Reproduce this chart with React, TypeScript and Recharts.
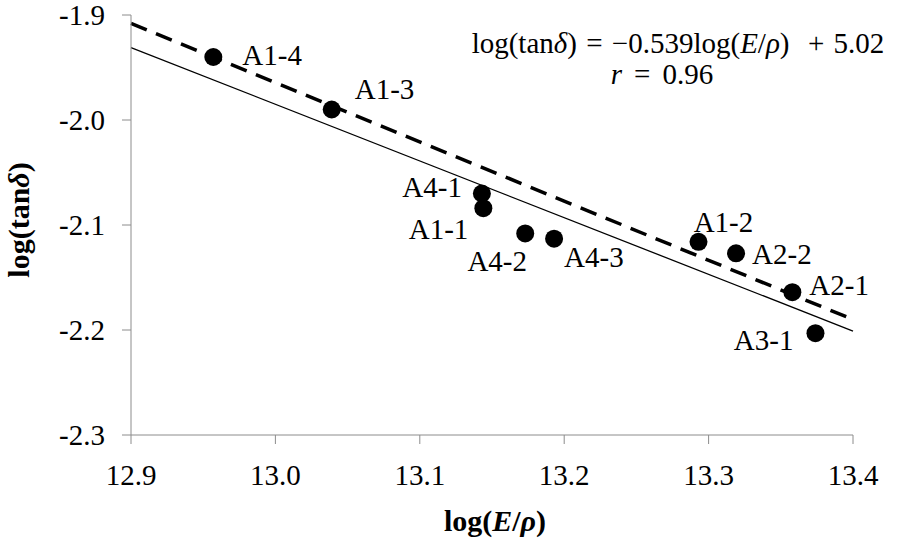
import React from 'react';
import { ScatterChart, Scatter, XAxis, YAxis, ReferenceLine, LabelList } from 'recharts';

const sampleNames = ['A1-4', 'A1-3', 'A4-1', 'A1-1', 'A4-2', 'A4-3', 'A1-2', 'A2-2', 'A2-1', 'A3-1'];
const logEp = [12.957, 13.039, 13.143, 13.144, 13.173, 13.193, 13.293, 13.319, 13.358, 13.374];
const logTan = [-1.94, -1.99, -2.07, -2.084, -2.108, -2.113, -2.116, -2.127, -2.164, -2.203];

const xTicks = [12.9, 13.0, 13.1, 13.2, 13.3, 13.4];
const yTicks = [-2.3, -2.2, -2.1, -2.0, -1.9];

// fitted line (solid) and upper line (dashed), endpoints at x = 12.9 / 13.4
const fitX = [12.9, 13.4];
const fitSolid = [-1.931, -2.201];
const fitDashed = [-1.908, -2.19];

const points = sampleNames.map((name, i) => ({ name, x: logEp[i], y: logTan[i] }));

// label offsets relative to point centre
const labelPos: Record<string, { dx: number; dy: number; anchor: string }> = {
  'A1-4': { dx: 29, dy: -2, anchor: 'start' },
  'A1-3': { dx: 23, dy: -21, anchor: 'start' },
  'A4-1': { dx: -20, dy: -7, anchor: 'end' },
  'A1-1': { dx: -15, dy: 21, anchor: 'end' },
  'A4-2': { dx: -28, dy: 27, anchor: 'middle' },
  'A4-3': { dx: 10, dy: 18, anchor: 'start' },
  'A1-2': { dx: 25, dy: -20, anchor: 'middle' },
  'A2-2': { dx: 16, dy: 0, anchor: 'start' },
  'A2-1': { dx: 17, dy: -7, anchor: 'start' },
  'A3-1': { dx: -22, dy: 7, anchor: 'end' },
};

const FONT = '"Liberation Serif", "Times New Roman", Times, serif';
const AXIS = '#8c8c8c';

const Dot = (props: any) => <circle cx={props.cx} cy={props.cy} r={9} fill="#000" />;

const PointLabel = (props: any) => {
  const { x, y, width, height, value } = props;
  const p = labelPos[value] || { dx: 15, dy: 0, anchor: 'start' };
  const cx = x + width / 2;
  const cy = y + height / 2;
  return (
    <text x={cx + p.dx} y={cy + p.dy} dy="0.35em" textAnchor={p.anchor} style={{ fontFamily: FONT, fontSize: 29 }} fill="#000">
      {value}
    </text>
  );
};

const XTick = (props: any) => (
  <text x={props.x} y={props.y + 39} textAnchor="middle" style={{ fontFamily: FONT, fontSize: 29 }} fill="#000">
    {Number(props.payload.value).toFixed(1)}
  </text>
);

const YTick = (props: any) => (
  <text x={props.x - 15} y={props.y} dy="0.35em" textAnchor="end" style={{ fontFamily: FONT, fontSize: 29 }} fill="#000">
    {Number(props.payload.value).toFixed(1)}
  </text>
);

export default function App() {
  return (
    <div style={{ position: 'absolute', left: 0, top: 0, width: 898, height: 543, background: '#fff' }}>
      <ScatterChart width={898} height={543} margin={{ top: 15, right: 45, bottom: 0, left: 0 }}>
        <XAxis
          type="number"
          dataKey="x"
          domain={[12.9, 13.4]}
          ticks={xTicks}
          stroke={AXIS}
          tickLine={{ stroke: AXIS }}
          tickSize={9}
          tick={<XTick />}
          height={108}
          label={{
            content: () => (
              <text x={495} y={531} textAnchor="middle" style={{ fontFamily: FONT, fontSize: 30, fontWeight: 'bold' }} fill="#000">
                log(<tspan fontStyle="italic">E</tspan>/<tspan fontStyle="italic">ρ</tspan>)
              </text>
            ),
          }}
        />
        <YAxis
          type="number"
          dataKey="y"
          domain={[-2.3, -1.9]}
          ticks={yTicks}
          stroke={AXIS}
          tickLine={{ stroke: AXIS }}
          tickSize={9}
          tick={<YTick />}
          width={131}
          label={{
            content: () => (
              <text
                x={29}
                y={220}
                transform="rotate(-90 29 220)"
                textAnchor="middle"
                style={{ fontFamily: FONT, fontSize: 30, fontWeight: 'bold' }}
                fill="#000"
              >
                log(tan<tspan fontStyle="italic">δ</tspan>)
              </text>
            ),
          }}
        />
        <ReferenceLine
          segment={[{ x: fitX[0], y: fitSolid[0] }, { x: fitX[1], y: fitSolid[1] }]}
          stroke="#000"
          strokeWidth={1.3}
          ifOverflow="visible"
        />
        <ReferenceLine
          segment={[{ x: fitX[0], y: fitDashed[0] }, { x: fitX[1], y: fitDashed[1] }]}
          stroke="#000"
          strokeWidth={3.5}
          strokeDasharray="17 10"
          ifOverflow="visible"
        />
        <Scatter data={points} shape={<Dot />} isAnimationActive={false}>
          <LabelList dataKey="name" content={<PointLabel />} />
        </Scatter>
      </ScatterChart>
      <div
        style={{
          position: 'absolute',
          left: 428,
          top: 28,
          width: 500,
          textAlign: 'center',
          fontFamily: FONT,
          fontSize: 29,
          lineHeight: '31px',
          wordSpacing: 2,
          color: '#000',
          whiteSpace: 'nowrap',
        }}
      >
        <div>
          log(tan<i>δ</i>) = −0.539log(<i>E</i>/<i>ρ</i>)&nbsp; + 5.02
        </div>
        <div style={{ marginRight: 32 }}>
          <i>r</i>
          <span style={{ padding: '0 12px' }}>=</span>0.96
        </div>
      </div>
    </div>
  );
}
